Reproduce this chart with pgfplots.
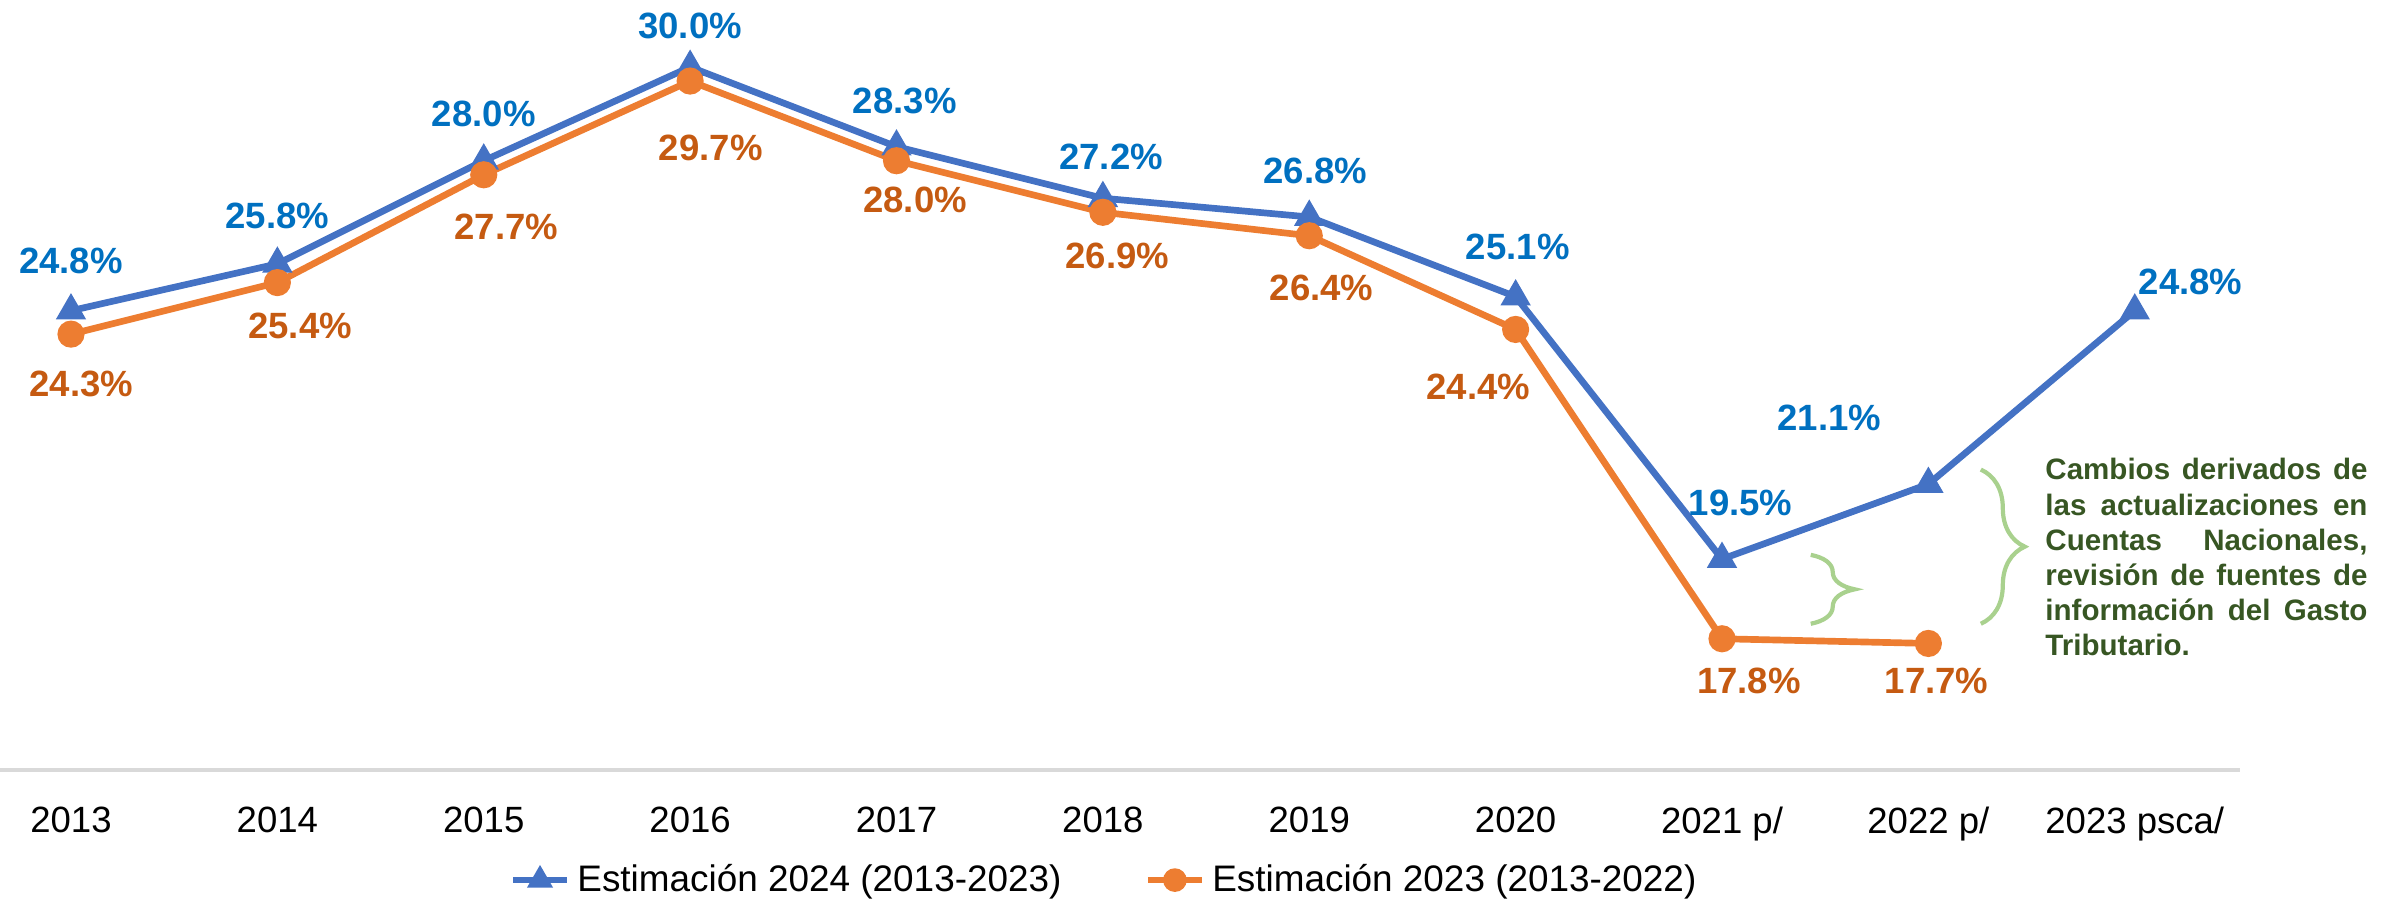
\documentclass[border=0pt]{standalone}
\usepackage{fontspec}
\setmainfont{Liberation Sans}
\usepackage{pgfplots}
\pgfplotsset{compat=1.18}
\usetikzlibrary{decorations.pathreplacing}

\definecolor{lineblue}{HTML}{4472C4}
\definecolor{lineorange}{HTML}{ED7D31}
\definecolor{lblblue}{HTML}{0070C0}
\definecolor{lblorange}{HTML}{C55A11}
\definecolor{notegreen}{HTML}{375623}
\definecolor{bracegreen}{HTML}{A9D18E}
\definecolor{axisgray}{HTML}{D9D9D9}

\begin{document}
\begin{tikzpicture}
\path[use as bounding box] (0,0) rectangle (239mm,89.9mm);
\begin{axis}[
    at={(0mm,12.9mm)}, anchor=south west,
    width=224mm, height=77mm, scale only axis,
    xmin=-0.344, xmax=10.51,
    ymin=15, ymax=31.43,
    axis x line*=bottom, axis y line=none,
    x axis line style={draw=axisgray, line width=1pt},
    xtick={0,1,2,3,4,5,6,7,8,9,10},
    xticklabels={2013,2014,2015,2016,2017,2018,2019,2020,2021 p/,2022 p/,2023 psca/},
    major tick length=0pt,
    xticklabel style={font=\fontsize{10.4}{12}\selectfont, yshift=-2.5mm},
    clip=false,
    legend columns=2,
    legend style={at={(0.494,-0.143)}, anchor=center, draw=none, fill=none,
        font=\fontsize{10.5}{12}\selectfont,
        /tikz/every even column/.append style={column sep=7.6mm}},
    legend image code/.code={\draw[mark repeat=2,mark phase=2,mark size=2.4pt] plot coordinates {(0mm,0mm) (2.7mm,0mm) (5.4mm,0mm)};},
    legend cell align=left,
]
\addplot[color=lineblue, line width=1.9pt, mark=triangle*, mark size=3.1pt,
    mark options={solid}] coordinates {
    (0,24.8) (1,25.8) (2,28.0) (3,30.0) (4,28.3) (5,27.2) (6,26.8) (7,25.1) (8,19.5) (9,21.1) (10,24.8)};
\addlegendentry{Estimación 2024 (2013-2023)}

\addplot[color=lineorange, line width=1.9pt, mark=*, mark size=2.9pt] coordinates {
    (0,24.3) (1,25.4) (2,27.7) (3,29.7) (4,28.0) (5,26.9) (6,26.4) (7,24.4) (8,17.8) (9,17.7)};
\addlegendentry{Estimación 2023 (2013-2022)}

% data labels
\begin{scope}[every node/.style={font=\fontsize{10.4}{12}\selectfont\bfseries, inner sep=0pt}]
\node[text=lblblue] at (axis cs:0.00,25.86) {24.8\%};
\node[text=lblblue] at (axis cs:1.00,26.82) {25.8\%};
\node[text=lblblue] at (axis cs:2.00,29.00) {28.0\%};
\node[text=lblblue] at (axis cs:3.00,30.87) {30.0\%};
\node[text=lblblue] at (axis cs:4.04,29.28) {28.3\%};
\node[text=lblblue] at (axis cs:5.04,28.08) {27.2\%};
\node[text=lblblue] at (axis cs:6.03,27.78) {26.8\%};
\node[text=lblblue] at (axis cs:7.01,26.16) {25.1\%};
\node[text=lblblue] at (axis cs:8.09,20.70) {19.5\%};
\node[text=lblblue] at (axis cs:8.52,22.52) {21.1\%};
\node[text=lblblue] at (axis cs:10.27,25.42) {24.8\%};

\node[text=lblorange] at (axis cs:0.05,23.24) {24.3\%};
\node[text=lblorange] at (axis cs:1.11,24.48) {25.4\%};
\node[text=lblorange] at (axis cs:2.11,26.59) {27.7\%};
\node[text=lblorange] at (axis cs:3.10,28.27) {29.7\%};
\node[text=lblorange] at (axis cs:4.09,27.16) {28.0\%};
\node[text=lblorange] at (axis cs:5.07,25.97) {26.9\%};
\node[text=lblorange] at (axis cs:6.06,25.29) {26.4\%};
\node[text=lblorange] at (axis cs:6.82,23.18) {24.4\%};
\node[text=lblorange] at (axis cs:8.13,16.91) {17.8\%};
\node[text=lblorange] at (axis cs:9.04,16.91) {17.7\%};
\end{scope}

% braces and note
\draw[bracegreen, line width=1.2pt, decorate, decoration={brace, amplitude=4.4mm}]
    (axis cs:9.254,21.41) -- (axis cs:9.254,18.12);
\draw[bracegreen, line width=1.2pt, decorate, decoration={brace, amplitude=4.4mm}]
    (axis cs:8.43,19.59) -- (axis cs:8.43,18.12);
\node[anchor=north west, inner sep=0pt, text width=32.2mm, align=justify,
    text=notegreen, font=\fontsize{8.4}{10}\selectfont\bfseries]
    at (axis cs:9.564,21.66)
    {\hyphenpenalty=10000 Cambios derivados de\linebreak las actualizaciones en\linebreak Cuentas Nacionales,\linebreak revisión de fuentes de\linebreak información del Gasto\linebreak Tributario.};
\end{axis}
\end{tikzpicture}
\end{document}
